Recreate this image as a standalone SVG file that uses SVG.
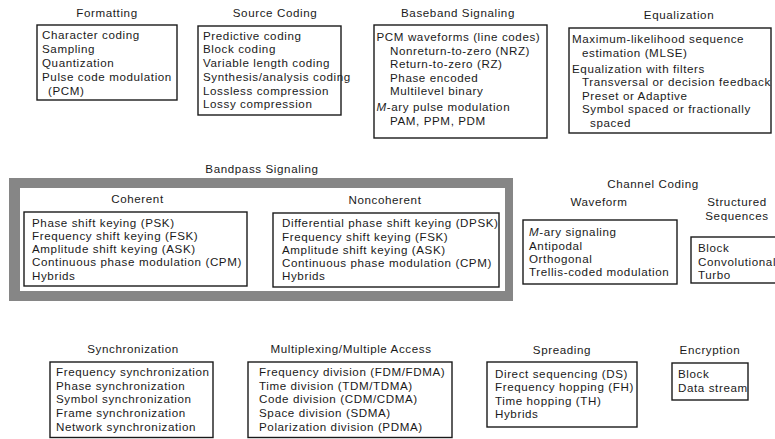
<svg xmlns="http://www.w3.org/2000/svg" width="775" height="439" viewBox="0 0 775 439">
  <style>
    text { font-family: "Liberation Sans", Arial, sans-serif; font-size: 11.6px; letter-spacing: 0.6px; fill: #1a1a1a; }
    .title { text-anchor: middle; }
    .box { fill: #ffffff; stroke: #1a1a1a; stroke-width: 1.4; }
    .frame { fill: #868686; fill-rule: evenodd; }
  </style>
  <rect x="0" y="0" width="775" height="439" fill="#ffffff"/>

  <!-- Formatting -->
  <g id="formatting">
    <text class="title" x="107" y="16.5">Formatting</text>
    <rect class="box" x="37" y="25" width="140" height="75"/>
    <text x="42" y="38.5">Character coding</text>
    <text x="42" y="52.5">Sampling</text>
    <text x="42" y="66.5">Quantization</text>
    <text x="42" y="80.5">Pulse code modulation</text>
    <text x="48" y="94.5">(PCM)</text>
  </g>

  <!-- Source coding -->
  <g id="source-coding">
    <text class="title" x="275" y="16.5">Source Coding</text>
    <rect class="box" x="198" y="26" width="143" height="89"/>
    <text x="203" y="39.5">Predictive coding</text>
    <text x="203" y="53.3">Block coding</text>
    <text x="203" y="67">Variable length coding</text>
    <text x="203" y="80.8">Synthesis/analysis coding</text>
    <text x="203" y="94.5">Lossless compression</text>
    <text x="203" y="108.3">Lossy compression</text>
  </g>

  <!-- Baseband signaling -->
  <g id="baseband-signaling">
    <text class="title" x="458" y="16.5">Baseband Signaling</text>
    <rect class="box" x="374" y="25" width="173" height="113"/>
    <text x="376.5" y="40.5">PCM waveforms (line codes)</text>
    <text x="390" y="54.5">Nonreturn-to-zero (NRZ)</text>
    <text x="390" y="67.8">Return-to-zero (RZ)</text>
    <text x="390" y="81.5">Phase encoded</text>
    <text x="390" y="95.3">Multilevel binary</text>
    <text x="376.5" y="110.5"><tspan font-style="italic">M</tspan>-ary pulse modulation</text>
    <text x="390" y="124.5">PAM, PPM, PDM</text>
  </g>

  <!-- Equalization -->
  <g id="equalization">
    <text class="title" x="679" y="18.5">Equalization</text>
    <rect class="box" x="569" y="28" width="202" height="105"/>
    <text x="572" y="42.5">Maximum-likelihood sequence</text>
    <text x="582" y="56.8">estimation (MLSE)</text>
    <text x="572" y="72.8">Equalization with filters</text>
    <text x="582" y="86.3">Transversal or decision feedback</text>
    <text x="582" y="99.8">Preset or Adaptive</text>
    <text x="582" y="113.3">Symbol spaced or fractionally</text>
    <text x="590" y="127">spaced</text>
  </g>

  <!-- Bandpass signaling: thick grey frame around coherent / noncoherent -->
  <g id="bandpass-signaling">
    <text class="title" x="262" y="172.5">Bandpass Signaling</text>
    <path class="frame" d="M9,178 H513 V301 H9 Z M20,188 V291 H505 V188 Z"/>
  </g>

  <g id="coherent">
    <text class="title" x="137.5" y="202.5">Coherent</text>
    <rect class="box" x="24" y="212" width="223" height="74"/>
    <text x="32" y="226.5">Phase shift keying (PSK)</text>
    <text x="32" y="239.8">Frequency shift keying (FSK)</text>
    <text x="32" y="253.1">Amplitude shift keying (ASK)</text>
    <text x="32" y="266.4">Continuous phase modulation (CPM)</text>
    <text x="32" y="279.7">Hybrids</text>
  </g>

  <g id="noncoherent">
    <text class="title" x="385" y="204">Noncoherent</text>
    <rect class="box" x="273" y="213" width="226" height="74"/>
    <text x="282" y="227.2">Differential phase shift keying (DPSK)</text>
    <text x="282" y="240.5">Frequency shift keying (FSK)</text>
    <text x="282" y="253.8">Amplitude shift keying (ASK)</text>
    <text x="282" y="267.1">Continuous phase modulation (CPM)</text>
    <text x="282" y="280.4">Hybrids</text>
  </g>

  <!-- Channel coding -->
  <g id="channel-coding">
    <text class="title" x="653" y="187.5">Channel Coding</text>
  </g>

  <g id="waveform">
    <text class="title" x="599" y="205.5">Waveform</text>
    <rect class="box" x="523" y="220" width="154" height="64"/>
    <text x="529" y="236"><tspan font-style="italic">M</tspan>-ary signaling</text>
    <text x="529" y="249.5">Antipodal</text>
    <text x="529" y="263">Orthogonal</text>
    <text x="529" y="276.3">Trellis-coded modulation</text>
  </g>

  <g id="structured-sequences">
    <text class="title" x="737" y="206.2">Structured</text>
    <text class="title" x="737" y="219.6">Sequences</text>
    <rect class="box" x="691" y="237" width="95" height="46"/>
    <text x="698" y="252">Block</text>
    <text x="698" y="265.5">Convolutional</text>
    <text x="698" y="278.8">Turbo</text>
  </g>

  <!-- Bottom row -->
  <g id="synchronization">
    <text class="title" x="133" y="352.5">Synchronization</text>
    <rect class="box" x="50" y="362" width="163" height="75.5"/>
    <text x="56" y="376.2">Frequency synchronization</text>
    <text x="56" y="389.8">Phase synchronization</text>
    <text x="56" y="403.4">Symbol synchronization</text>
    <text x="56" y="417">Frame synchronization</text>
    <text x="56" y="430.6">Network synchronization</text>
  </g>

  <g id="multiplexing">
    <text class="title" x="351" y="353">Multiplexing/Multiple Access</text>
    <rect class="box" x="248" y="362" width="204" height="75.5"/>
    <text x="259" y="376.2">Frequency division (FDM/FDMA)</text>
    <text x="259" y="389.8">Time division (TDM/TDMA)</text>
    <text x="259" y="403.4">Code division (CDM/CDMA)</text>
    <text x="259" y="417">Space division (SDMA)</text>
    <text x="259" y="430.6">Polarization division (PDMA)</text>
  </g>

  <g id="spreading">
    <text class="title" x="562" y="354">Spreading</text>
    <rect class="box" x="487" y="362" width="150" height="65"/>
    <text x="495" y="377.5">Direct sequencing (DS)</text>
    <text x="495" y="391">Frequency hopping (FH)</text>
    <text x="495" y="404.5">Time hopping (TH)</text>
    <text x="495" y="418">Hybrids</text>
  </g>

  <g id="encryption">
    <text class="title" x="710" y="354">Encryption</text>
    <rect class="box" x="672" y="363" width="76" height="37"/>
    <text x="678" y="378">Block</text>
    <text x="678" y="391.5">Data stream</text>
  </g>
</svg>
